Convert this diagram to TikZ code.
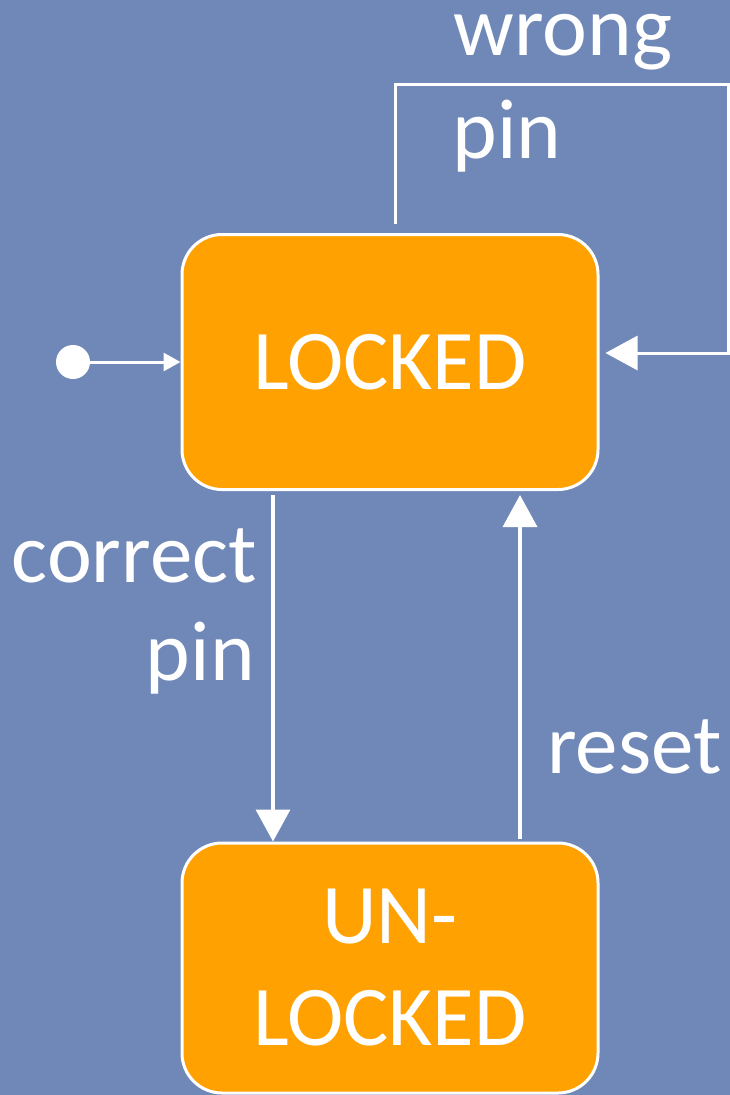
\documentclass[tikz,border=0pt]{standalone}
\usepackage{fontspec}
\setmainfont{Carlito}
\usetikzlibrary{arrows.meta,positioning}
\definecolor{bgblue}{HTML}{6F88B8}
\definecolor{stateorange}{HTML}{FFA100}
\tikzset{
  statebox/.style={draw=white,line width=3pt,fill=stateorange,rounded corners=40pt,
    minimum width=416pt,minimum height=255pt,text=white,align=center,
    font=\fontsize{85}{102}\selectfont},
  edge/.style={draw=white,line width=3.5pt,-{Triangle[length=32pt,width=34pt]}},
  lbl/.style={text=white,font=\fontsize{85}{102}\selectfont,inner sep=0pt}
}
\begin{document}
\begin{tikzpicture}[x=1pt,y=-1pt]
        \useasboundingbox (0,0) rectangle (730,1095);
        \clip (0,0) rectangle (730,1095);
        \fill[bgblue] (0,0) rectangle (730,1095);

        \node[statebox] (locked) at (390,362) {LOCKED};
        \node[statebox,minimum height=250pt] (unlocked) at (390,968) {UN-\\LOCKED};
        \node[circle,fill=white,minimum size=34pt,inner sep=0pt] (init) at (73,362) {};
        \coordinate (wtop) at (728,84);

        \draw[edge,line width=3pt,-{Triangle[length=17pt,width=18pt]}] (init) -- (locked);
        \draw[edge] ([xshift=-117pt,yshift=-4pt]locked.south) -- ([xshift=-117pt]unlocked.north);
        \draw[edge] ([xshift=130pt,yshift=3pt]unlocked.north) -- ([xshift=130pt,yshift=-4pt]locked.south);
        \draw[edge,line width=3pt] ([xshift=5pt,yshift=9pt]locked.north) |- (wtop) |- ([xshift=6pt,yshift=9pt]locked.east);

        \node[lbl,anchor=base] (lblwrong) at (563,55) {wrong};
        \node[lbl,anchor=base] (lblpin) at (507,158) {pin};
        \node[lbl,anchor=base east] (lblcorrect) at (257,582) {correct};
        \node[lbl,anchor=base east] (lblpin2) at (255,680) {pin};
        \node[lbl,anchor=base west] (lblreset) at (547,773) {reset};
    \end{tikzpicture}
\end{document}
